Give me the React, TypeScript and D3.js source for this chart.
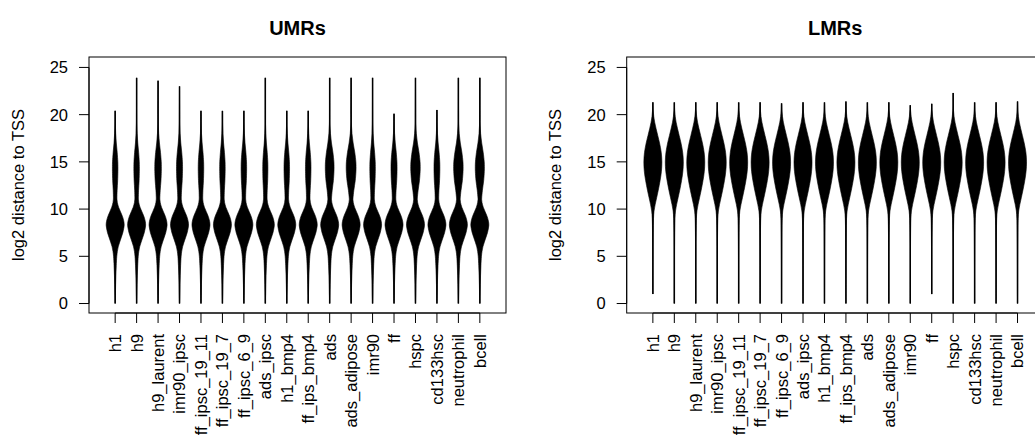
import React from 'react';
import * as d3 from 'd3';

const categories = ['h1', 'h9', 'h9_laurent', 'imr90_ipsc', 'ff_ipsc_19_11', 'ff_ipsc_19_7', 'ff_ipsc_6_9', 'ads_ipsc', 'h1_bmp4', 'ff_ips_bmp4', 'ads', 'ads_adipose', 'imr90', 'ff', 'hspc', 'cd133hsc', 'neutrophil', 'bcell'];
const yTicks = [0, 5, 10, 15, 20, 25];

// UMRs: per-sample range and width of the upper (distal) mode
const umrMin = [0, 0, 0, 0, 0, 0, 0, 0, 0, 0, 0, 0, 0, 0, 0, 0, 0, 0];
const umrMax = [20.4, 23.9, 23.6, 23.0, 20.4, 20.4, 20.4, 23.9, 20.4, 20.4, 23.9, 23.9, 23.9, 20.1, 23.9, 20.5, 23.9, 23.9];
const umrUpperMode = [0.22, 0.22, 0.28, 0.25, 0.22, 0.22, 0.22, 0.2, 0.22, 0.22, 0.4, 0.46, 0.22, 0.25, 0.44, 0.24, 0.44, 0.42];
// density profile of the main (proximal) mode, normalised to 1
const umrMainY = [0, 1, 2, 3, 4, 5, 5.5, 6, 6.5, 7, 7.5, 8, 8.3, 8.7, 9.2, 9.7, 10.2, 10.7, 11.2, 12, 13, 14, 15, 16, 17, 18, 19, 20, 24];
const umrMainD = [0.02, 0.03, 0.05, 0.08, 0.12, 0.18, 0.24, 0.34, 0.5, 0.68, 0.85, 0.96, 1, 0.96, 0.82, 0.6, 0.38, 0.24, 0.18, 0.14, 0.11, 0.09, 0.08, 0.06, 0.04, 0.025, 0.015, 0.01, 0.01];
// density profile of the upper mode, normalised to 1
const umrUpperY = [0, 11, 12, 13, 14, 14.5, 15, 16, 17, 18, 19, 24];
const umrUpperD = [0, 0, 0.35, 0.75, 0.97, 1, 0.97, 0.75, 0.4, 0.15, 0.03, 0];

// LMRs
const lmrMin = [1.0, 0, 0, 0, 0, 0, 0, 0, 0, 0, 0, 0, 0, 1.0, 0, 0, 0, 0];
const lmrMax = [21.3, 21.3, 21.3, 21.3, 21.3, 21.3, 21.2, 21.3, 21.3, 21.4, 21.3, 21.3, 21.0, 21.15, 22.3, 21.3, 21.3, 21.4];
const lmrY = [0, 2, 4, 6, 8, 9, 9.8, 10.5, 11.2, 12, 13, 14, 15, 16, 17, 17.8, 18.5, 19.2, 19.8, 20.4, 21, 23];
const lmrD = [0.01, 0.012, 0.015, 0.025, 0.045, 0.07, 0.13, 0.26, 0.42, 0.6, 0.8, 0.95, 1, 0.93, 0.74, 0.54, 0.36, 0.2, 0.1, 0.04, 0.015, 0.01];

const FONT = '"Liberation Sans", Arial, Helvetica, sans-serif';

type Panel = {
  title: string;
  left: number;
  mins: number[];
  maxs: number[];
  knots: number[];
  density: (i: number, y: number) => number;
};

const umrMainF = d3.scaleLinear().domain(umrMainY).range(umrMainD).clamp(true);
const umrUpperF = d3.scaleLinear().domain(umrUpperY).range(umrUpperD).clamp(true);
const lmrF = d3.scaleLinear().domain(lmrY).range(lmrD).clamp(true);

const umrKnots = Array.from(new Set([...umrMainY, ...umrUpperY])).sort((a, b) => a - b);

const panels: Panel[] = [
  {
    title: 'UMRs',
    left: 89,
    mins: umrMin,
    maxs: umrMax,
    knots: umrKnots,
    density: (i, y) => umrMainF(y) + umrUpperMode[i] * umrUpperF(y),
  },
  {
    title: 'LMRs',
    left: 626.7,
    mins: lmrMin,
    maxs: lmrMax,
    knots: lmrY,
    density: (_i, y) => lmrF(y),
  },
];

const BOX_W = 417;
const TOP = 57;
const BOTTOM = 313;

function PanelView({ p }: { p: Panel }) {
  const n = categories.length;
  const ext = 0.04 * n;
  const xs = d3.scaleLinear().domain([0.5 - ext, n + 0.5 + ext]).range([p.left, p.left + BOX_W]);
  const yExt = 0.04 * 25.1;
  const ys = d3.scaleLinear().domain([-yExt, 25.1 + yExt]).range([BOTTOM, TOP]);
  const unit = xs(2) - xs(1);
  const maxHalf = 0.42 * unit;

  const area = d3
    .area<{ y: number; w: number; cx: number }>()
    .y((d) => ys(d.y))
    .x0((d) => d.cx - d.w * maxHalf)
    .x1((d) => d.cx + d.w * maxHalf)
    .curve(d3.curveCatmullRom);

  const right = p.left + BOX_W;
  const cx0 = (p.left + right) / 2;

  return (
    <g>
      <text x={cx0} y={35} textAnchor="middle" fontFamily={FONT} fontWeight="bold" fontSize={20}>
        {p.title}
      </text>
      {categories.map((c, i) => {
        const cx = xs(i + 1);
        const lo = p.mins[i];
        const hi = p.maxs[i];
        const pts = [
          { y: lo, w: 0, cx },
          ...p.knots.filter((k) => k > lo && k < hi).map((k) => ({ y: k, w: p.density(i, k), cx })),
          { y: hi, w: 0, cx },
        ];
        return (
          <g key={c}>
            <line x1={cx} x2={cx} y1={ys(lo)} y2={ys(hi)} stroke="black" strokeWidth={1.5} />
            <path d={area(pts) || ''} fill="black" stroke="black" strokeWidth={0.6} />
          </g>
        );
      })}
      {/* box */}
      <rect x={p.left} y={TOP} width={BOX_W} height={BOTTOM - TOP} fill="none" stroke="black" strokeWidth={1} />
      {/* y axis */}
      <line x1={p.left} x2={p.left} y1={ys(yTicks[0])} y2={ys(yTicks[yTicks.length - 1])} stroke="black" strokeWidth={1} />
      {yTicks.map((t) => (
        <g key={t}>
          <line x1={p.left - 10} x2={p.left} y1={ys(t)} y2={ys(t)} stroke="black" strokeWidth={1} />
          <text x={p.left - 21} y={ys(t)} dy="0.36em" textAnchor="end" fontFamily={FONT} fontSize={16.5}>
            {t}
          </text>
        </g>
      ))}
      <text
        transform={`translate(${p.left - 65.5},${(TOP + BOTTOM) / 2}) rotate(-90)`}
        textAnchor="middle"
        fontFamily={FONT}
        fontSize={16.5}
      >
        log2 distance to TSS
      </text>
      {/* x axis */}
      <line x1={xs(1)} x2={xs(n)} y1={BOTTOM} y2={BOTTOM} stroke="black" strokeWidth={1} />
      {categories.map((c, i) => (
        <g key={c}>
          <line x1={xs(i + 1)} x2={xs(i + 1)} y1={BOTTOM} y2={BOTTOM + 10} stroke="black" strokeWidth={1} />
          <text
            transform={`translate(${xs(i + 1)},${BOTTOM + 21}) rotate(-90)`}
            dy="0.36em"
            textAnchor="end"
            fontFamily={FONT}
            fontSize={16.5}
          >
            {c}
          </text>
        </g>
      ))}
    </g>
  );
}

export default function App() {
  return (
    <svg
      width={1035}
      height={443}
      style={{ position: 'absolute', left: 0, top: 0, background: 'white' }}
      xmlns="http://www.w3.org/2000/svg"
    >
      <rect x={0} y={0} width={1035} height={443} fill="white" />
      {panels.map((p) => (
        <PanelView key={p.title} p={p} />
      ))}
    </svg>
  );
}
